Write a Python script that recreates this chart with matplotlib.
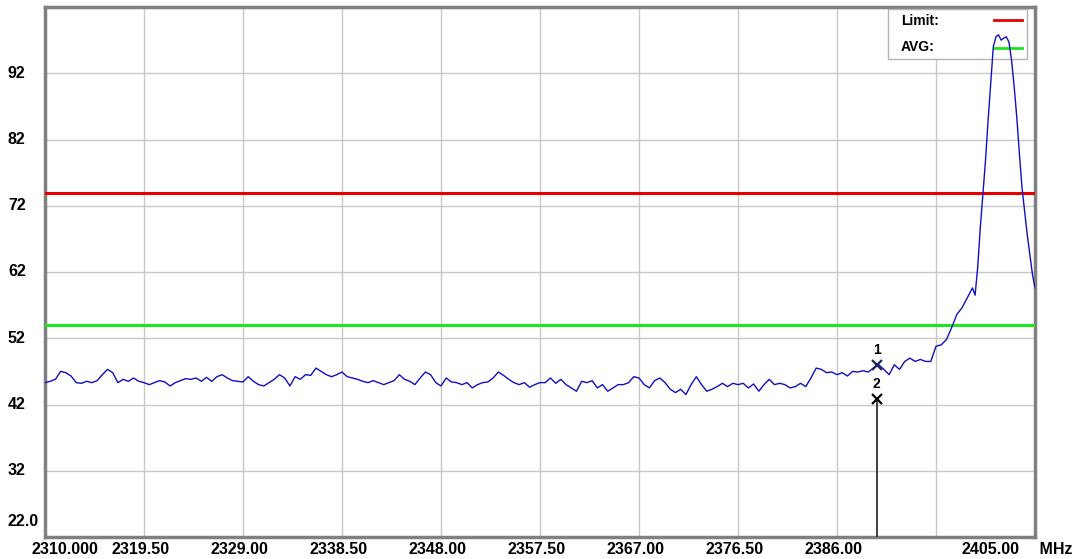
import numpy as np
import matplotlib
matplotlib.use("Agg")
import matplotlib.pyplot as plt
from matplotlib.patches import Rectangle
from matplotlib.transforms import blended_transform_factory

plt.rcParams['font.family'] = ['Liberation Sans', 'DejaVu Sans']

# === datos ===
f_start, f_stop = 2310.0, 2405.0
y_min, y_max = 22.0, 102.0

# traza plana, cada 0.5 MHz de 2310 a 2395
flat_step = 0.5
flat_level = [
    45.3, 45.5, 45.8, 47.0, 46.8, 46.3, 45.3, 45.2, 45.5, 45.3, 45.6, 46.5, 47.3, 46.8, 45.3, 45.8,
    45.5, 46.0, 45.5, 45.3, 45.0, 45.3, 45.6, 45.4, 44.8, 45.3, 45.6, 45.9, 45.8, 46.0, 45.5, 46.1,
    45.5, 46.2, 46.5, 46.0, 45.6, 45.5, 45.4, 46.2, 45.5, 45.0, 44.8, 45.3, 45.8, 46.5, 46.0, 44.8,
    46.2, 45.8, 46.5, 46.4, 47.5, 47.0, 46.5, 46.2, 46.5, 46.9, 46.2, 46.0, 45.8, 45.5, 45.3, 45.6,
    45.3, 45.0, 45.3, 45.6, 46.5, 45.8, 45.5, 45.0, 46.0, 46.9, 46.5, 45.3, 44.8, 46.0, 45.4, 45.3,
    45.0, 45.3, 44.5, 45.0, 45.3, 45.4, 46.0, 46.9, 46.4, 45.8, 45.3, 45.0, 45.3, 44.6, 45.0, 45.3,
    45.3, 46.0, 45.2, 45.8, 45.0, 44.5, 44.0, 45.5, 45.3, 45.6, 44.5, 45.0, 44.0, 44.5, 45.0, 45.0,
    45.3, 46.2, 46.0, 45.0, 44.5, 45.6, 46.0, 45.3, 44.3, 43.8, 44.3, 43.5, 45.0, 46.2, 45.0,
    44.0, 44.3, 44.7, 45.2, 44.7, 45.2, 45.0, 45.2, 44.5, 45.1, 44.0, 45.0, 45.8, 45.0, 45.2, 45.0,
    44.5, 44.7, 45.2, 44.7, 46.0, 47.5, 47.3, 46.8, 46.9, 46.5, 46.8, 46.3, 47.0, 46.9, 47.1, 46.9,
    47.5, 48.0, 47.3, 46.5, 48.0, 47.3, 48.5, 49.0, 48.5, 48.8, 48.5, 48.5,
]
flat_freq = np.arange(len(flat_level)) * flat_step + f_start

# subida y pico de la portadora
peak_freq = [2395.5, 2396.0, 2396.5, 2397.0, 2397.5, 2398.0, 2398.5, 2399.0, 2399.25,
             2399.5, 2399.75, 2400.0, 2400.25, 2400.5, 2400.75, 2401.0, 2401.25, 2401.5,
             2401.75, 2402.0, 2402.25, 2402.5, 2402.75, 2403.0, 2403.25, 2403.5, 2403.75,
             2404.0, 2404.25, 2404.5, 2404.75, 2405.0]
peak_level = [50.8, 51.0, 51.8, 53.6, 55.6, 56.6, 58.1, 59.6, 58.5,
              62.7, 68.7, 73.8, 78.8, 84.9, 90.4, 96.0, 97.5, 97.8,
              97.0, 97.3, 97.5, 96.7, 94.0, 90.0, 85.4, 79.9, 74.8,
              71.2, 67.7, 64.7, 61.7, 59.6]

limit_level = 74.0
avg_level = 54.0

marker_freq = 2389.8
marker1_level = 48.0
marker2_level = 42.8

x_grid = [2319.5, 2329.0, 2338.5, 2348.0, 2357.5, 2367.0, 2376.5, 2386.0, 2395.5]
x_labels = ["2319.50", "2329.00", "2338.50", "2348.00", "2357.50", "2367.00", "2376.50", "2386.00", ""]
y_grid = [32, 42, 52, 62, 72, 82, 92]

FS = 11.5
LBL_Y = -(549 - 537) / 530   # centro de las etiquetas X, en fracción de ejes

# === figura ===
fig = plt.figure(figsize=(10.73, 5.59), dpi=100)
ax = fig.add_axes([45 / 1073, 22 / 559, 990 / 1073, 530 / 559])
ax.set_xlim(f_start, f_stop)
ax.set_ylim(y_min, y_max)

for xv in x_grid:
    ax.axvline(xv, color="#c8c8c8", lw=1, zorder=1)
for yv in y_grid:
    ax.axhline(yv, color="#c8c8c8", lw=1, zorder=1)

ax.set_xticks([])
ax.set_yticks([])

for s in ax.spines.values():
    s.set_color("#808080")
    s.set_linewidth(2.5)

# etiquetas X
trx = blended_transform_factory(ax.transData, ax.transAxes)
for xv, lab in zip(x_grid, x_labels):
    ax.text(xv - 0.3, LBL_Y, lab, transform=trx, ha="center", va="center",
            fontsize=FS, fontweight="bold", clip_on=False)
ax.text(2311.9, LBL_Y, "2310.000", transform=trx, ha="center", va="center",
        fontsize=FS, fontweight="bold", clip_on=False)
ax.text(2400.7, LBL_Y, "2405.00", transform=trx, ha="center", va="center",
        fontsize=FS, fontweight="bold", clip_on=False)
ax.text(1.0, LBL_Y, " MHz", transform=ax.transAxes, ha="left", va="center",
        fontsize=FS, fontweight="bold", clip_on=False)

# etiquetas Y, alineadas a la izquierda
tr = blended_transform_factory(fig.transFigure, ax.transData)
for yv in y_grid:
    ax.text(8 / 1073, yv, str(yv), transform=tr, ha="left", va="center",
            fontsize=FS, fontweight="bold", clip_on=False)
ax.text(8 / 1073, y_min + 2.3, "22.0", transform=tr, ha="left", va="center",
        fontsize=FS, fontweight="bold", clip_on=False)

# límites
ax.axhline(limit_level, color="#e60000", lw=2.2, zorder=3)
ax.axhline(avg_level, color="#1ee61e", lw=2.2, zorder=3)

# leyenda (caja blanca bajo la traza)
x0 = (888 - 45) / 990
x1 = (1027 - 45) / 990
y0 = 1 - (59 - 7) / 530
y1 = 1 - (9 - 7) / 530
ax.add_patch(Rectangle((x0, y0), x1 - x0, y1 - y0, transform=ax.transAxes,
                       facecolor="white", edgecolor="#b4b4b4", lw=1, zorder=4))
ax.text((901 - 45) / 990, 1 - (21 - 7) / 530, "Limit:", transform=ax.transAxes,
        ha="left", va="center", fontsize=10, fontweight="bold", zorder=5)
ax.text((901 - 45) / 990, 1 - (47 - 7) / 530, "AVG:", transform=ax.transAxes,
        ha="left", va="center", fontsize=10, fontweight="bold", zorder=5)
ax.plot([(994 - 45) / 990, (1022 - 45) / 990], [1 - (20 - 7) / 530] * 2,
        transform=ax.transAxes, color="#e60000", lw=2, zorder=5)
ax.plot([(994 - 45) / 990, (1022 - 45) / 990], [1 - (48 - 7) / 530] * 2,
        transform=ax.transAxes, color="#1ee61e", lw=2, zorder=5)

# traza
trace_f = np.concatenate([flat_freq, peak_freq])
trace_l = np.concatenate([flat_level, peak_level])
ax.plot(trace_f, trace_l, color="#1010c0", lw=1, zorder=6)

# marcadores
ax.plot([marker_freq, marker_freq], [y_min, marker2_level], color="#303030", lw=1.3, zorder=7)
ax.plot([marker_freq], [marker1_level], "x", color="#202060", ms=7, mew=1.6, zorder=8)
ax.plot([marker_freq], [marker2_level], "x", color="black", ms=7, mew=1.6, zorder=8)
ax.text(marker_freq, marker1_level + 1.2, "1", ha="center", va="bottom",
        fontsize=10, fontweight="bold", zorder=8)
ax.text(marker_freq, marker2_level + 1.2, "2", ha="center", va="bottom",
        fontsize=10, fontweight="bold", zorder=8)

fig.savefig("out.png", dpi=100)
